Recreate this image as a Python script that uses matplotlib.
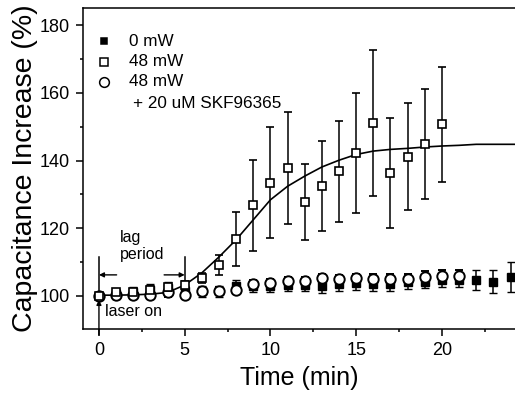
import matplotlib
matplotlib.use("Agg")
import matplotlib.pyplot as plt
from matplotlib.ticker import MultipleLocator

plt.rcParams['font.family'] = ['Liberation Sans', 'DejaVu Sans']

# 48 mW (open squares)
t_48 = list(range(0, 21))
v_48 = [100, 101, 101, 101.8, 102.5, 103.3, 105.2, 109.2, 116.9, 126.8, 133.5,
        137.8, 127.7, 132.6, 136.8, 142.3, 151.0, 136.3, 141.1, 144.9, 150.7]
e_48 = [0.5, 0.8, 0.8, 1.0, 1.0, 1.2, 1.5, 3.0, 8.0, 13.5, 16.5,
        16.5, 11.2, 13.3, 15.0, 17.8, 21.6, 16.3, 15.8, 16.2, 17.0]

# 0 mW (filled squares)
t_0 = list(range(0, 25))
v_0 = [100, 100.6, 101, 101.8, 102.4, 101.5, 101.3, 101.3, 102.8, 102.8, 102.8,
       103.3, 103.3, 102.8, 103.5, 103.8, 103.5, 103.5, 104.0, 104.2, 104.7,
       104.7, 104.7, 104.2, 105.5]
e_0 = [0.5, 1.5, 1.5, 1.8, 1.8, 1.5, 1.5, 1.5, 1.8, 1.8, 1.8,
       2.0, 2.0, 2.0, 2.0, 2.0, 2.0, 2.0, 2.0, 2.0, 2.0,
       2.0, 3.0, 3.4, 4.4]

# 48 mW + 20 uM SKF96365 (open circles)
t_skf = list(range(0, 22))
v_skf = [100, 100.3, 100.2, 100.3, 101.0, 100.2, 101.3, 101.5, 101.8, 103.6, 103.8,
         104.4, 104.4, 105.2, 104.9, 105.2, 104.9, 104.9, 104.9, 105.5, 105.9, 105.9]
e_skf = [0.5, 1.0, 1.0, 1.2, 1.2, 1.0, 1.0, 1.0, 1.2, 1.2, 1.2,
         1.2, 1.2, 1.2, 1.2, 1.2, 1.5, 1.5, 1.5, 1.8, 1.8, 1.8]

# fitted curve for 48 mW
t_fit = [0, 1, 2, 3, 4, 5, 6, 7, 8, 9, 10, 11, 12, 13, 14, 15, 16, 17, 18, 19, 20, 21, 22, 23, 24.5]
v_fit = [100.2, 100.2, 100.3, 100.5, 101.0, 103.2, 106.8, 111.5, 116.6, 122.5, 128.4,
         132.4, 135.4, 138.1, 140.1, 141.8, 142.8, 143.3, 143.6, 144.0, 144.3, 144.5,
         144.8, 144.8, 144.8]

legend_labels = ["0 mW", "48 mW", "48 mW", "+ 20 uM SKF96365"]

fig = plt.figure(figsize=(5.15, 4.0), dpi=100)
ax = fig.add_axes([83/515, 71/400, (515-83)/515, (329-8)/400])

ebkw = dict(ecolor='black', elinewidth=1.1, capsize=3, capthick=1.1, linestyle='none')

ax.errorbar(t_0, v_0, yerr=e_0, marker='s', ms=5.5, mfc='black', mec='black', mew=1.0, **ebkw, zorder=3)
ax.errorbar(t_skf, v_skf, yerr=e_skf, marker='o', ms=7.5, mfc='white', mec='black', mew=1.4, **ebkw, zorder=4)
ax.plot(t_fit, v_fit, color='black', lw=1.2, zorder=2)
ax.errorbar(t_48, v_48, yerr=e_48, marker='s', ms=6.3, mfc='white', mec='black', mew=1.2, **ebkw, zorder=5)

ax.set_xlim(-0.93, 24.26)
ax.set_ylim(90.2, 185.1)

ax.xaxis.set_major_locator(MultipleLocator(5))
ax.xaxis.set_minor_locator(MultipleLocator(2.5))
ax.yaxis.set_major_locator(MultipleLocator(20))
ax.yaxis.set_minor_locator(MultipleLocator(10))
ax.tick_params(which='major', direction='out', length=5, width=1.1, labelsize=13, top=False, right=False, pad=4.5)
ax.tick_params(which='minor', direction='out', length=2.5, width=1.1, top=False, right=False)
ax.spines['right'].set_visible(False)
for s in ['left', 'bottom', 'top']:
    ax.spines[s].set_linewidth(1.1)

ax.set_xlabel("Time (min)", fontsize=18, labelpad=5)
ax.set_ylabel("Capacitance Increase (%)", fontsize=20.5, labelpad=1)

# legend drawn manually
tr = ax.transAxes
def axfrac(px, py):
    return ((px - 83) / (515 - 83), (329 - py) / (329 - 8))
for (py, mk, mfc, ms) in [(41, 's', 'black', 5), (62, 's', 'white', 6), (82, 'o', 'white', 7)]:
    x, y = axfrac(104, py)
    ax.plot([x], [y], marker=mk, ms=ms, mfc=mfc, mec='black', mew=1.1, transform=tr, clip_on=False)
for py, lab, px in [(41, legend_labels[0], 129), (62, legend_labels[1], 129),
                    (82, legend_labels[2], 129), (104, legend_labels[3], 133)]:
    x, y = axfrac(px, py)
    ax.text(x, y, lab, transform=tr, fontsize=12.3, va='center', ha='left')

# annotations: lag period and laser on
ak = dict(arrowstyle='-|>', color='black', lw=1.0, mutation_scale=7, shrinkA=0, shrinkB=0)
ax.plot([0, 0], [111.6, 101.2], color='black', lw=1.1)
ax.plot([5, 5], [111.6, 104.5], color='black', lw=1.1)
ax.annotate('', xy=(0, 106.2), xytext=(1.03, 106.2), arrowprops=ak)
ax.annotate('', xy=(5, 106.2), xytext=(3.8, 106.2), arrowprops=ak)
ax.annotate('', xy=(0, 98.8), xytext=(0, 88.5), arrowprops=ak, annotation_clip=False)
ax.text(1.22, 114.8, "lag\nperiod", fontsize=11.5, ha='left', va='center', linespacing=1.15)
ax.text(0.35, 95.3, "laser on", fontsize=11.5, ha='left', va='center')

fig.savefig("out.png", dpi=100)
